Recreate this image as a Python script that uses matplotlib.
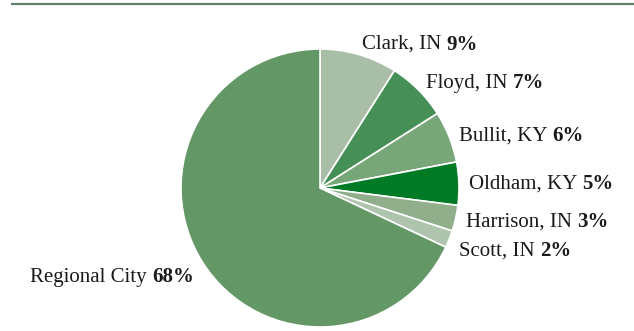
import numpy as np
import matplotlib
matplotlib.use("Agg")
import matplotlib.pyplot as plt

# Share of the regional total by county
names = ["Clark, IN", "Floyd, IN", "Bullit, KY", "Oldham, KY",
         "Harrison, IN", "Scott, IN", "Regional City"]
shares = [9, 7, 6, 5, 3, 2, 68]
colors = ["#a9bea7", "#468f57", "#77a678", "#007a25",
          "#8fae89", "#afc4ad", "#639866"]

# small vertical nudges (px, downward) so lower labels clear each other
label_drop = [0, 1, 3, 1, 1, 8, 9]

W, H = 634, 331
fig = plt.figure(figsize=(W / 100, H / 100), dpi=100)
ax = fig.add_axes([0, 0, 1, 1])

cx, cy, r = 320, H - 188, 139
wedges, _ = ax.pie(shares, colors=colors, startangle=90, counterclock=False,
                   center=(cx, cy), radius=r, frame=True,
                   wedgeprops=dict(edgecolor="white", linewidth=1.2))
ax.set_xlim(0, W)
ax.set_ylim(0, H)
ax.set_aspect("equal")
ax.axis("off")

# rule across the top
ax.plot([11, W], [H - 4, H - 4], color="#5b806c", linewidth=1.6,
        solid_capstyle="butt")

font = dict(family=["Liberation Serif", "DejaVu Serif"], fontsize=15,
            color="#1a1a1a")
fig.canvas.draw()
renderer = fig.canvas.get_renderer()
for w, name, val, drop in zip(wedges, names, shares, label_drop):
    ang = np.deg2rad((w.theta1 + w.theta2) / 2)
    x = cx + r * 1.075 * np.cos(ang)
    y = cy + r * 1.075 * np.sin(ang) - drop
    pct = f"{val}%"
    t1 = ax.text(x, y, name + " ", ha="left", va="center", **font)
    bb1 = t1.get_window_extent(renderer)
    t2 = ax.text(x, y, pct, ha="left", va="center", fontweight="bold", **font)
    bb2 = t2.get_window_extent(renderer)
    if np.cos(ang) >= 0:
        t2.set_x(x + bb1.width)
    else:
        t2.set_x(x - bb2.width)
        t1.set_x(x - bb2.width - bb1.width)

fig.savefig("out.png", dpi=100)
